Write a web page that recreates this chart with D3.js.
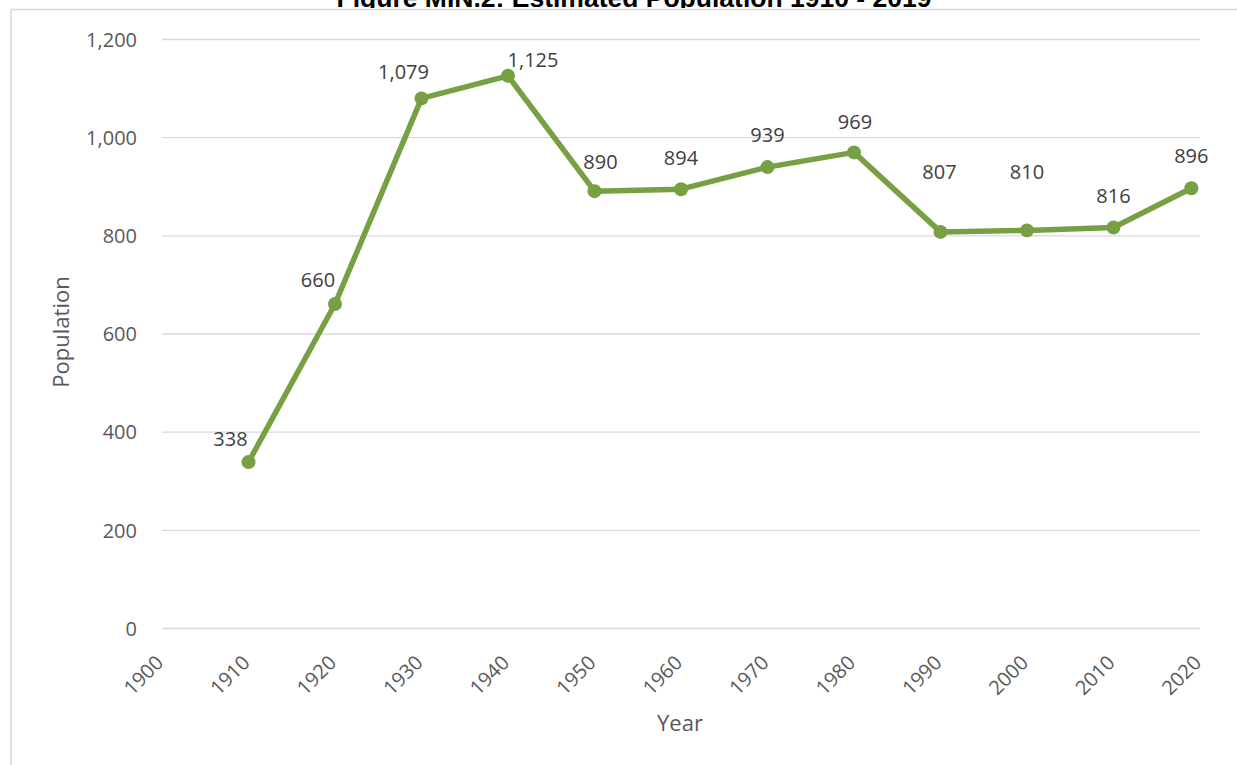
<!DOCTYPE html>
<html>
<head>
<meta charset="utf-8">
<script src="https://cdn.jsdelivr.net/npm/d3@7"></script>
<style>
  body { margin: 0; background: #fff; }
  svg { display: block; }
</style>
</head>
<body>
<svg id="chart" width="1237" height="765"></svg>
<script>
// data
const years = [1910, 1920, 1930, 1940, 1950, 1960, 1970, 1980, 1990, 2000, 2010, 2019];
const population = [338, 660, 1079, 1125, 890, 894, 939, 969, 807, 810, 816, 896];
const xTicks = [1900, 1910, 1920, 1930, 1940, 1950, 1960, 1970, 1980, 1990, 2000, 2010, 2020];
const yTicks = [0, 200, 400, 600, 800, 1000, 1200];

const titleText = "Figure MIN.2: Estimated Population 1910 - 2019";

// label nudges (dx, dy) like the hand-placed Excel labels
const labelNudge = {
    1910: [-18, -23], 1920: [-17, -24], 1930: [-18, -27], 1940: [25, -16],
    1950: [6, -29], 1960: [0, -31], 1970: [0, -32], 1980: [1, -31],
    1990: [-1, -60], 2000: [0, -59], 2010: [0, -32], 2019: [0, -32]
};

const data = years.map((y, i) => ({ year: y, pop: population[i] }));

const svg = d3.select("#chart");
const margin = { left: 162, right: 37, top: 39, bottom: 137 };
const W = 1237, H = 765;
const font = "Open Sans, sans-serif";

const x = d3.scaleLinear().domain([1900, 2020]).range([margin.left, W - margin.right]);
const y = d3.scaleLinear().domain([0, 1200]).range([H - margin.bottom, margin.top]);

// title sits mostly above the page, only its lower part shows
svg.append("clipPath").attr("id", "titleClip")
    .append("rect").attr("x", 0).attr("y", 0).attr("width", W).attr("height", 8);
svg.append("text")
    .attr("clip-path", "url(#titleClip)")
    .attr("x", 634).attr("y", 7)
    .attr("text-anchor", "middle")
    .attr("font-family", "Liberation Sans, Arial, sans-serif")
    .attr("font-weight", "bold")
    .attr("font-size", 26.5)
    .attr("fill", "#000")
    .text(titleText);

// outer frame (only top and left visible)
svg.append("line").attr("x1", 11).attr("x2", W).attr("y1", 9.5).attr("y2", 9.5)
    .attr("stroke", "#d9d9d9").attr("stroke-width", 1.5);
svg.append("line").attr("x1", 11).attr("x2", 11).attr("y1", 9.5).attr("y2", H)
    .attr("stroke", "#d9d9d9").attr("stroke-width", 1.5);

// gridlines + y labels
const yAxis = d3.axisLeft(y).tickValues(yTicks)
    .tickSize(-(W - margin.left - margin.right))
    .tickFormat(d3.format(","));
const gy = svg.append("g").attr("transform", `translate(${margin.left},0)`).call(yAxis);
gy.select(".domain").remove();
gy.selectAll(".tick line").attr("stroke", "#d9d9d9").attr("stroke-width", 1.3);
gy.selectAll(".tick text")
    .attr("x", -25).attr("dy", "0.36em")
    .attr("font-family", font)
    .attr("font-size", 20).attr("fill", "#595959");

// x labels, rotated
const xAxis = d3.axisBottom(x).tickValues(xTicks).tickSize(0).tickFormat(d3.format("d"));
const gx = svg.append("g").attr("transform", `translate(0,${y(0)})`).call(xAxis);
gx.select(".domain").remove();
gx.selectAll(".tick text")
    .attr("font-family", font)
    .attr("font-size", 20).attr("fill", "#595959")
    .attr("text-anchor", "end")
    .attr("dy", 0).attr("y", 0)
    .attr("transform", "translate(2,36) rotate(-45)");

// axis titles
svg.append("text")
    .attr("x", 680).attr("y", 731)
    .attr("text-anchor", "middle")
    .attr("font-family", font)
    .attr("font-size", 22).attr("fill", "#595959")
    .text("Year");
svg.append("text")
    .attr("transform", "translate(69,332) rotate(-90)")
    .attr("text-anchor", "middle")
    .attr("font-family", font)
    .attr("font-size", 22).attr("fill", "#595959")
    .text("Population");

// line + markers
const green = "#77a043";
const line = d3.line().x(d => x(d.year)).y(d => y(d.pop));
svg.append("path").datum(data)
    .attr("d", line)
    .attr("fill", "none")
    .attr("stroke", green)
    .attr("stroke-width", 5.5)
    .attr("stroke-linejoin", "round");

svg.selectAll("circle.pt").data(data).join("circle")
    .attr("class", "pt")
    .attr("cx", d => x(d.year)).attr("cy", d => y(d.pop))
    .attr("r", 7).attr("fill", green);

// value labels
svg.selectAll("text.lbl").data(data).join("text")
    .attr("class", "lbl")
    .attr("x", d => x(d.year) + labelNudge[d.year][0])
    .attr("y", d => y(d.pop) + labelNudge[d.year][1])
    .attr("dy", "0.36em")
    .attr("text-anchor", "middle")
    .attr("font-family", font)
    .attr("font-size", 20).attr("fill", "#404040")
    .text(d => d3.format(",")(d.pop));
</script>
</body>
</html>
